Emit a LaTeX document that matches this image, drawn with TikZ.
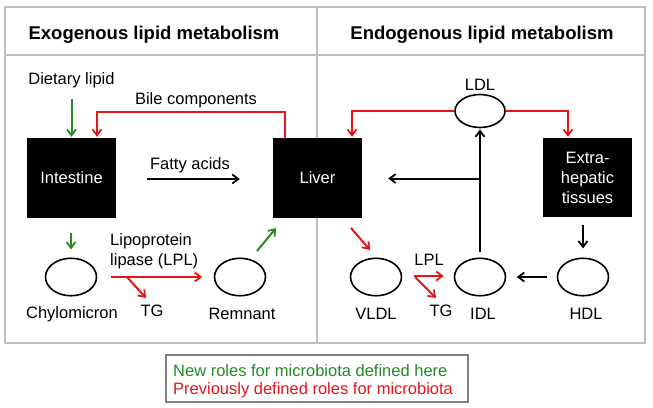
\documentclass[tikz,border=0pt]{standalone}
\usepackage{fontspec}
\setmainfont{Liberation Sans}
\usetikzlibrary{arrows.meta,shapes.geometric}
\definecolor{mygreen}{RGB}{34,139,34}
\definecolor{myred}{RGB}{232,20,24}
\definecolor{framegray}{RGB}{190,190,190}
\definecolor{leggray}{RGB}{128,128,128}
\tikzset{
  txt/.style={font=\fontsize{16.5}{19}\selectfont, inner sep=0pt},
  hdr/.style={font=\fontsize{18.5}{21}\selectfont\bfseries, inner sep=0pt},
  organ/.style={rectangle, fill=black, text=white, minimum width=89pt, minimum height=80pt, inner sep=0pt, align=center, font=\fontsize{16.5}{20}\selectfont},
  lipo/.style={ellipse, draw, line width=1.6pt, minimum width=51pt, minimum height=37.5pt, inner sep=0pt},
  tipstyle/.style={-{Straight Barb[length=6pt,width=9pt,line width=1.8pt]}, line width=2pt},
  garrow/.style={tipstyle, draw=mygreen},
  rarrow/.style={tipstyle, draw=myred},
  karrow/.style={tipstyle, draw=black},
}
\begin{document}
\begin{tikzpicture}[x=1pt,y=-1pt]
\useasboundingbox (0,0) rectangle (653,407);
% frame
\draw[framegray, line width=1.8pt] (5,7) rectangle (645,343);
\draw[framegray, line width=1.8pt] (5,55) -- (645,55);
\draw[framegray, line width=1.8pt] (317,7) -- (317,343);
\node[hdr] (h1) at (154,35) {Exogenous lipid metabolism};
\node[hdr] (h2) at (482,35) {Endogenous lipid metabolism};

% organs
\node[organ] (intestine) at (71.5,178) {Intestine};
\node[organ] (liver) at (317.5,178) {Liver};
\node[organ, minimum height=79pt] (extra) at (587.5,177.5) {Extra-\\hepatic\\tissues};

% lipoproteins
\node[lipo] (chylo) at (71,277) {};
\node[lipo] (remnant) at (240,277) {};
\node[lipo] (vldl) at (376,277) {};
\node[lipo] (idl) at (480,277) {};
\node[lipo] (hdl) at (583,277) {};
\node[lipo, minimum width=50pt, minimum height=33pt] (ldl) at (480,111) {};

% labels
\node[txt] (diet) at (71.5,80) {Dietary lipid};
\node[txt] (bile) at (196,100) {Bile components};
\node[txt] (fatty) at (190,165) {Fatty acids};
\node[txt, anchor=west, align=left, font=\fontsize{16.5}{20}\selectfont] (lpl1) at (110,251) {Lipoprotein\\lipase (LPL)};
\node[txt] (tg1) at (152,311) {TG};
\node[txt] (chylol) at (72,314) {Chylomicron};
\node[txt] (remnantl) at (242,314) {Remnant};
\node[txt] (ldll) at (480,85) {LDL};
\node[txt] (lpl2) at (429,260) {LPL};
\node[txt] (tg2) at (441,311) {TG};
\node[txt] (vldll) at (376,314) {VLDL};
\node[txt] (idll) at (483,314) {IDL};
\node[txt] (hdll) at (586,314) {HDL};

% exogenous connectors
\draw[garrow, shorten <=11pt, shorten >=1pt] (diet.south) -- (intestine.north);
\draw[rarrow, shorten >=1pt] ([xshift=-32.5pt]liver.north) -- ++(0,-26) -| ([xshift=25.5pt]intestine.north);
\draw[karrow, shorten <=31pt, shorten >=33pt] ([yshift=-1pt]intestine.east) -- ([yshift=-1pt]liver.west);
\draw[garrow, shorten <=15pt, shorten >=8pt] (intestine.south -| chylo.north) -- (chylo.north);
\draw[rarrow, shorten <=13.5pt, shorten >=11.5pt] (chylo.east) -- (remnant.west);
\coordinate (split1) at (127,277);
\coordinate (tg1tip) at (146,298);
\draw[rarrow] (split1) -- (tg1tip);
\coordinate (remout) at (257,251);
\coordinate (liverin) at (276,228);
\draw[garrow] (remout) -- (liverin);

% endogenous connectors
\coordinate (liverout) at (351,228);
\coordinate (vldlin) at (370,250);
\draw[rarrow] (liverout) -- (vldlin);
\draw[rarrow, shorten <=12pt, shorten >=10pt] ([yshift=1pt]vldl.east) -- ([yshift=1pt]idl.west);
\coordinate (split2) at (415,277);
\coordinate (tg2tip) at (436,298);
\draw[rarrow] (split2) -- (tg2tip);
\draw[karrow, shorten <=5pt, shorten >=1pt] (idl.north) -- (ldl.south);
\coordinate (junction) at (480,178.5);
\draw[karrow, shorten >=26pt] (junction) -- (liver.east |- junction);
\draw[karrow, shorten <=9.5pt, shorten >=10.5pt] (hdl.west) -- (idl.east);
\draw[karrow, shorten <=8pt, shorten >=9pt] (extra.south -| hdl.north) -- (hdl.north);
\draw[rarrow, shorten >=1pt] (ldl.west) -| ([xshift=34.5pt]liver.north);
\draw[rarrow, shorten >=1pt] (ldl.east) -| ([xshift=-19.5pt]extra.north);

% legend
\node[draw=leggray, line width=1.3pt, minimum width=302pt, minimum height=47pt, inner sep=0pt] (legend) at (317,378.5) {};
\node[txt, anchor=west, text=mygreen] (leg1) at (173,371) {New roles for microbiota defined here};
\node[txt, anchor=west, text=myred] (leg2) at (173,390) {Previously defined roles for microbiota};
\end{tikzpicture}
\end{document}
